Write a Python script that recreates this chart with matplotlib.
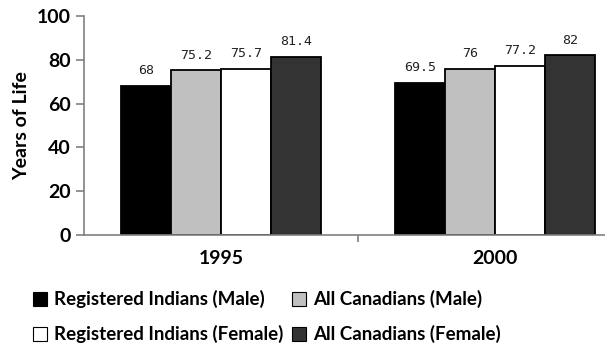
import matplotlib.pyplot as plt
from matplotlib.patches import Patch
import numpy as np

years = ['1995', '2000']
series = ['Registered Indians (Male)', 'All Canadians (Male)',
          'Registered Indians (Female)', 'All Canadians (Female)']
ri_male = [68, 69.5]
ac_male = [75.2, 76]
ri_female = [75.7, 77.2]
ac_female = [81.4, 82]
colors = ['#000000', '#c0c0c0', '#ffffff', '#333333']

plt.rcParams['font.family'] = ['Lato', 'DejaVu Sans']
fig = plt.figure(figsize=(6.05, 3.49), dpi=100)
ax = fig.add_axes([84 / 605, 114 / 349, 548 / 605, 219 / 349])

r = np.arange(len(years))
width = 0.1825
data = [ri_male, ac_male, ri_female, ac_female]
for i, vals in enumerate(data):
    xs = r + (i - 1.5) * width
    ax.bar(xs, vals, width=width, color=colors[i], edgecolor='black', linewidth=1.3)
    for x, v in zip(xs, vals):
        ax.text(x, v + 4, f'{v:g}', ha='center', va='bottom',
                family='DejaVu Sans Mono', fontsize=9.5, color='#222222')

ax.set_xlim(-0.5, 1.5)
ax.set_ylim(0, 100)
ax.set_yticks([0, 20, 40, 60, 80, 100])
ax.set_xticks([0.5], minor=True)
ax.set_xticks(r)
ax.set_xticklabels(years, fontsize=14, fontweight='bold')
ax.tick_params(axis='x', which='major', length=0, pad=11)
ax.tick_params(axis='x', which='minor', length=5, color='#808080', width=1.2)
ax.tick_params(axis='y', length=6, color='#808080', width=1.2, labelsize=14)
for lab in ax.get_yticklabels():
    lab.set_fontweight('bold')
ax.set_ylabel('Years of Life', fontsize=14, fontweight='bold', labelpad=5)

for s in ['top', 'right']:
    ax.spines[s].set_visible(False)
for s in ['left', 'bottom']:
    ax.spines[s].set_color('#808080')
    ax.spines[s].set_linewidth(1.2)

# legend fills column-first, so reorder to get the rows right
order = [0, 2, 1, 3]
handles = [Patch(facecolor=colors[i], edgecolor='black', linewidth=0.8) for i in order]
labels = [series[i] for i in order]
fig.legend(handles, labels, loc='upper left', bbox_to_anchor=(0.042, 0.19), ncol=2,
           frameon=False, prop={'family': 'Lato', 'weight': 'bold', 'size': 13.5},
           handlelength=0.75, handleheight=0.75, handletextpad=0.35, columnspacing=0.5,
           labelspacing=0.9, borderaxespad=0)

fig.savefig('out.png', dpi=100)
